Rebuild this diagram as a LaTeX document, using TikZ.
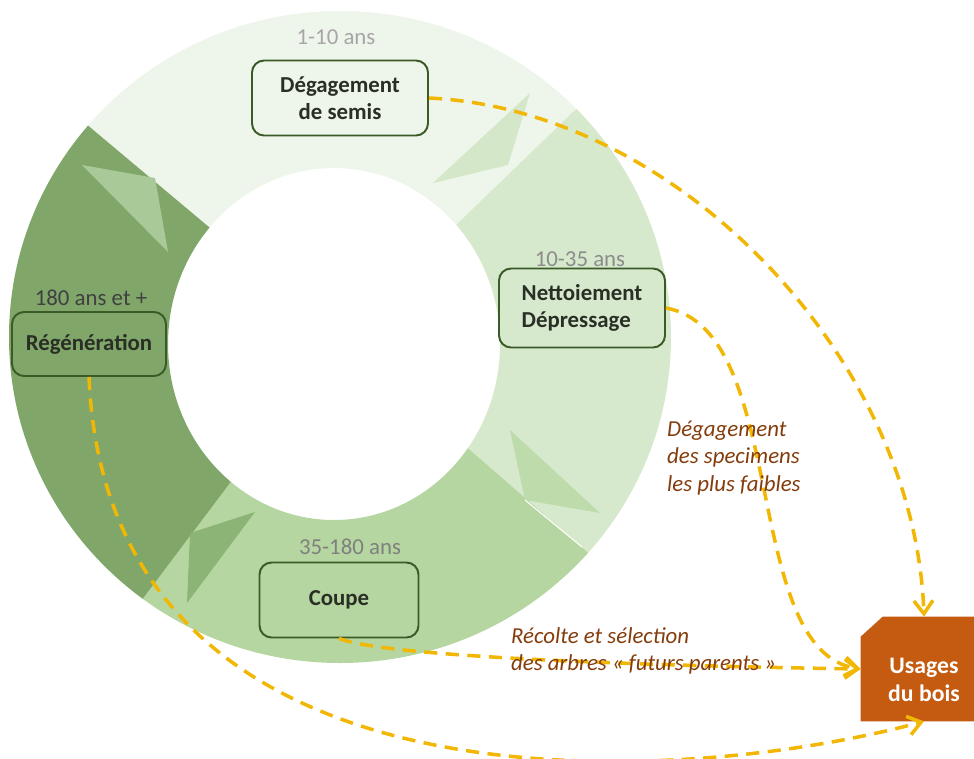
\documentclass[tikz,border=0pt]{standalone}
\usepackage{fontspec}
\setmainfont{Carlito}
\usetikzlibrary{arrows.meta}
\tikzset{>={Straight Barb[length=0.26cm,width=0.38cm]}}
\definecolor{segone}{HTML}{EEF5EA}
\definecolor{segtwo}{HTML}{D7E9CD}
\definecolor{segthree}{HTML}{B5D6A0}
\definecolor{segfour}{HTML}{80A66A}
\definecolor{tipone}{HTML}{A9C998}
\definecolor{tiptwo}{HTML}{D4E8C9}
\definecolor{tipthree}{HTML}{BEDBAB}
\definecolor{tipfour}{HTML}{8DB477}
\definecolor{stageedge}{HTML}{3A5A27}
\definecolor{stagetext}{HTML}{2A2F26}
\definecolor{flowgold}{HTML}{F2B705}
\definecolor{notebrown}{HTML}{843C0C}
\definecolor{usagesorange}{HTML}{C55A11}
\tikzset{
  stage/.style={draw=stageedge, line width=1.1pt, rounded corners=0.24cm, text=stagetext,
    font=\fontsize{13}{15.5}\selectfont\bfseries, align=center},
  age/.style={font=\fontsize{13}{15.5}\selectfont},
  flow/.style={->, draw=flowgold, line width=2pt, dash pattern=on 7.5pt off 4.8pt},
  note/.style={text=notebrown, font=\fontsize{13}{15.5}\selectfont\itshape, align=left, anchor=west},
}

\begin{document}
\begin{tikzpicture}[x=0.02cm, y=-0.02cm]
    \useasboundingbox (0,0) rectangle (974,758);
    \begin{scope}[shift={(340,337)}]
        \foreach \a/\b/\c/\col in {-44/-92/-140/segone, 41/0/-44/segtwo, 127/84/41/segthree, -140/-186/-233/segfour}{
            \begin{scope}
                \clip (0,0) -- (\a:500) -- (\b:500) -- (\c:500) -- cycle;
                \fill[\col, even odd rule] (0,0) ellipse [x radius=331, y radius=326] (-6,7) ellipse [x radius=166, y radius=176];
            \end{scope}
        }
    \end{scope}
    \fill[tipone] (82,165) -- (155,178) -- (168,252) -- cycle;
    \fill[tiptwo] (530,93) -- (508,165) -- (433,183) -- cycle;
    \fill[tipthree] (510,430) -- (600,513) -- (525,500) -- cycle;
    \fill[tipfour] (255,512) -- (190,533) -- (187,603) -- cycle;
    \draw[white, line width=0.6pt] (525,500) -- (582,547);

    \node[stage, fill=segone, minimum width=3.52cm, minimum height=1.5cm] (semis) at (340,98) {Dégagement\\de semis};
    \node[stage, fill=segtwo, minimum width=3.32cm, minimum height=1.58cm, align=left] (nett) at (582,308) {Nettoiement\\Dépressage};
    \node[stage, fill=segthree, minimum width=3.18cm, minimum height=1.5cm] (coupe) at (339,600) {Coupe};
    \node[stage, fill=segfour, minimum width=3.08cm, minimum height=1.28cm] (regen) at (89,344) {Régénération};
    \node[minimum width=2.52cm, minimum height=2.08cm, inner sep=0pt] (usages) at (924,669) {};
    \fill[usagesorange] (usages.south west) -- ([yshift=-0.4cm]usages.north west) -- ([xshift=0.44cm]usages.north west)
        -- (usages.north east) -- (usages.south east) -- cycle;
    \node[text=white, font=\fontsize{13.5}{15.5}\selectfont\bfseries, align=center] (usages label) at (924,680) {Usages\\du bois};

    \node[age, text=black!35] (age semis) at (336,37) {1-10 ans};
    \node[age, text=black!45] (age nett) at (580,259) {10-35 ans};
    \node[age, text=black!50] (age coupe) at (350,547) {35-180 ans};
    \node[age, text=black!75] (age regen) at (91,298) {180 ans et +};

    \draw[flow] (semis.east) .. controls (680,110) and (915,360) .. (usages.north);
    \draw[flow] (nett.east) .. controls (790,330) and (740,650) .. (usages.west);
    \draw[flow] (coupe.south) .. controls (380,655) and (600,665) .. (usages.west);
    \draw[flow] (regen.south) .. controls (108,830) and (690,785) .. (usages.south);

    \node[note] (note nett) at (661,458) {Dégagement\\des specimens\\les plus faibles};
    \node[note] (note coupe) at (505,651) {Récolte et sélection\\des arbres « futurs parents »};
\end{tikzpicture}
\end{document}
